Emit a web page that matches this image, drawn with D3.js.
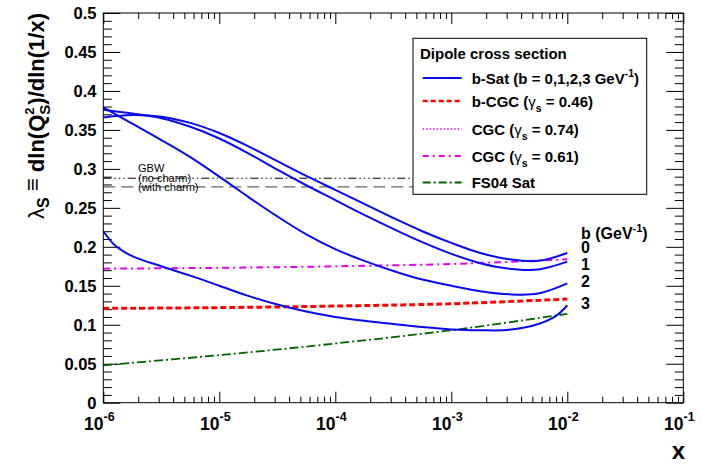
<!DOCTYPE html>
<html>
<head>
<meta charset="utf-8">
<script src="https://cdn.jsdelivr.net/npm/d3@7"></script>
<style>
body { margin: 0; background: #fff; }
text { font-family: Arial, "Liberation Sans", Helvetica, sans-serif; font-weight: bold; fill: #000; }
</style>
</head>
<body>
<div id="chart"></div>
<script>
// log10(x) grid for the b-Sat curves
var logX = [-6, -5.75, -5.5, -5.25, -5, -4.75, -4.5, -4.25, -4, -3.75, -3.5, -3.25, -3, -2.75, -2.5, -2.25, -2];
var bSat0 = [0.366, 0.369, 0.367, 0.359, 0.346, 0.329, 0.310, 0.291, 0.273, 0.255, 0.237, 0.220, 0.205, 0.192, 0.184, 0.182, 0.192];
var bSat1 = [0.376, 0.371, 0.365, 0.354, 0.339, 0.320, 0.299, 0.279, 0.260, 0.241, 0.223, 0.206, 0.191, 0.179, 0.172, 0.171, 0.181];
var bSat2 = [0.379, 0.358, 0.337, 0.315, 0.290, 0.264, 0.239, 0.216, 0.197, 0.182, 0.169, 0.158, 0.150, 0.143, 0.139, 0.140, 0.153];
var bSat3X = [-6, -5.9, -5.75, -5.5, -5.25, -5, -4.75, -4.5, -4.25, -4, -3.75, -3.5, -3.25, -3, -2.75, -2.5, -2.25, -2.1, -2];
var bSat3 = [0.220, 0.202, 0.188, 0.175, 0.163, 0.150, 0.137, 0.126, 0.117, 0.110, 0.105, 0.101, 0.097, 0.094, 0.093, 0.0935, 0.101, 0.111, 0.125];

// the flatter models
var modelX = [-6, -5, -4, -3, -2];
var bCgc046 = [0.121, 0.122, 0.124, 0.127, 0.133];
var cgc061 = [0.172, 0.173, 0.175, 0.178, 0.184];
var fs04Sat = [0.048, 0.061, 0.076, 0.093, 0.114];

// GBW constants
var gbwNoCharm = 0.288;
var gbwWithCharm = 0.277;

var xDecades = [-6, -5, -4, -3, -2, -1];
var yMajor = [0, 0.05, 0.1, 0.15, 0.2, 0.25, 0.3, 0.35, 0.4, 0.45, 0.5];
var curveLabels = ['0', '1', '2', '3'];

var W = 702, H = 464;
var pL = 103.3, pR = 683.3, pT = 13, pB = 402.7;

var svg = d3.select('#chart').append('svg').attr('width', W).attr('height', H);

var x = d3.scaleLog().domain([1e-6, 1e-1]).range([pL, pR]);
var y = d3.scaleLinear().domain([0, 0.5]).range([pB, pT]);

function pts(xs, ys) {
    return xs.map(function (lx, i) { return [Math.pow(10, lx), ys[i]]; });
}
var line = d3.line()
    .x(function (d) { return x(d[0]); })
    .y(function (d) { return y(d[1]); })
    .curve(d3.curveCatmullRom.alpha(0.5));

// ticks
var minorX = x.ticks().filter(function (v) { return Math.abs(Math.log10(v) - Math.round(Math.log10(v))) > 1e-6; });
var majorX = xDecades.map(function (e) { return Math.pow(10, e); });
var minorY = d3.range(0, 0.501, 0.01).filter(function (v) { return Math.abs(v * 20 - Math.round(v * 20)) > 1e-6; });

function tickAxis(axis, vals, size, tr) {
    var g = svg.append('g').attr('transform', tr)
        .call(axis.tickValues(vals).tickSize(size).tickFormat(''));
    g.select('.domain').remove();
    g.selectAll('line').attr('stroke', '#000').attr('stroke-width', 1);
}
tickAxis(d3.axisBottom(x), majorX, -11, 'translate(0,' + pB + ')');
tickAxis(d3.axisBottom(x), minorX, -6, 'translate(0,' + pB + ')');
tickAxis(d3.axisTop(x), majorX, -11, 'translate(0,' + pT + ')');
tickAxis(d3.axisTop(x), minorX, -6, 'translate(0,' + pT + ')');
tickAxis(d3.axisLeft(y), yMajor, -17, 'translate(' + pL + ',0)');
tickAxis(d3.axisLeft(y), minorY, -8.5, 'translate(' + pL + ',0)');
tickAxis(d3.axisRight(y), yMajor, -17, 'translate(' + pR + ',0)');
tickAxis(d3.axisRight(y), minorY, -8.5, 'translate(' + pR + ',0)');

// GBW lines
svg.append('line').attr('x1', x(1e-6)).attr('x2', x(1e-2))
    .attr('y1', y(gbwNoCharm)).attr('y2', y(gbwNoCharm))
    .attr('stroke', '#000').attr('stroke-width', 1).attr('stroke-dasharray', '8,3,1.5,3,1.5,3,1.5,3');
svg.append('line').attr('x1', x(1e-6)).attr('x2', x(1e-2))
    .attr('y1', y(gbwWithCharm)).attr('y2', y(gbwWithCharm))
    .attr('stroke', '#666').attr('stroke-width', 1.3).attr('stroke-dasharray', '12,6');

var gbw = svg.append('g').attr('transform', 'translate(138,0)');
[['GBW', 172], ['(no charm)', 181.5], ['(with charm)', 191]].forEach(function (t) {
    gbw.append('text').attr('x', 0).attr('y', t[1]).attr('font-size', 11)
        .style('font-weight', 'normal').text(t[0]);
});

// model curves
var series = [
    { d: pts(modelX, fs04Sat), c: '#006400', w: 1.8, dash: '9,3,2,3' },
    { d: pts(modelX, bCgc046), c: '#ff0000', w: 3, dash: '6,3' },
    { d: pts(modelX, cgc061), c: '#e600e6', w: 2, dash: '7,4,2,4' },
    { d: pts(logX, bSat0), c: '#0a0aee', w: 2, dash: null },
    { d: pts(logX, bSat1), c: '#0a0aee', w: 2, dash: null },
    { d: pts(logX, bSat2), c: '#0a0aee', w: 2, dash: null },
    { d: pts(bSat3X, bSat3), c: '#0a0aee', w: 2, dash: null }
];
svg.selectAll('path.curve').data(series).enter().append('path')
    .attr('class', 'curve')
    .attr('d', function (s) { return line(s.d); })
    .attr('fill', 'none')
    .attr('stroke', function (s) { return s.c; })
    .attr('stroke-width', function (s) { return s.w; })
    .attr('stroke-dasharray', function (s) { return s.dash; });

// frame
svg.append('rect').attr('x', pL).attr('y', pT).attr('width', pR - pL).attr('height', pB - pT)
    .attr('fill', 'none').attr('stroke', '#000').attr('stroke-width', 1);

// y tick labels
svg.selectAll('text.ylab').data(yMajor).enter().append('text')
    .attr('class', 'ylab')
    .attr('x', 96.5).attr('y', function (d) { return y(d) + 6; })
    .attr('text-anchor', 'end').attr('font-size', 16.5)
    .text(function (d) { return String(+d.toFixed(2)); });

// x tick labels
var xl = svg.selectAll('text.xlab').data(xDecades).enter().append('text')
    .attr('class', 'xlab')
    .attr('x', function (e) { return x(Math.pow(10, e)) - 4; })
    .attr('y', 430).attr('text-anchor', 'middle').attr('font-size', 17.5);
xl.append('tspan').text('10');
xl.append('tspan').attr('dy', -9).attr('font-size', 12.5).text(function (e) { return String(e); });

// axis titles
svg.append('text').attr('x', 685).attr('y', 459).attr('text-anchor', 'end')
    .attr('font-size', 24).text('x');

var yt = svg.append('text').attr('transform', 'translate(44,' + pT + ') rotate(-90)')
    .attr('text-anchor', 'end').attr('font-size', 22);
yt.append('tspan').style('font-weight', 'normal').text('λ');
yt.append('tspan').attr('dy', 5).attr('font-size', 16).text('S');
yt.append('tspan').attr('dy', -9).style('font-weight', 'normal').text(' ≡ ');
yt.append('tspan').attr('dy', 4).text('dln(Q');
yt.append('tspan').attr('dy', -10).attr('font-size', 13).text('2');
yt.append('tspan').attr('dx', -7.2).attr('dy', 16).attr('font-size', 15).text('S');
yt.append('tspan').attr('dy', -6).text(')/dln(1/x)');

// curve labels on the right
var rl = svg.append('g');
var b = rl.append('text').attr('x', 581).attr('y', 239).attr('font-size', 16);
b.append('tspan').text('b  (GeV');
b.append('tspan').attr('dy', -7).attr('font-size', 11).text('-1');
b.append('tspan').attr('dy', 7).text(')');
var labelY = [253, 270, 287, 309];
rl.selectAll('text.bl').data(curveLabels).enter().append('text')
    .attr('class', 'bl').attr('x', 581)
    .attr('y', function (d, i) { return labelY[i]; })
    .attr('font-size', 16).text(function (d) { return d; });

// legend
var lg = svg.append('g');
lg.append('rect').attr('x', 413).attr('y', 38.3).attr('width', 233.7).attr('height', 156)
    .attr('fill', '#fff').attr('stroke', '#000').attr('stroke-width', 1);
lg.append('text').attr('x', 420).attr('y', 59).attr('font-size', 15).text('Dipole cross section');

var legendItems = [
    { c: '#0a0aee', w: 2, dash: null, y: 78, label: 'b-Sat (b = 0,1,2,3 GeV', sup: '-1', tail: ')' },
    { c: '#ff0000', w: 2.5, dash: '5,3', y: 101, label: 'b-CGC (', g: '0.46' },
    { c: '#e600e6', w: 1.5, dash: '1.5,2', y: 129, label: 'CGC (', g: '0.74' },
    { c: '#e600e6', w: 2, dash: '6,4,2,4', y: 156, label: 'CGC (', g: '0.61' },
    { c: '#006400', w: 1.8, dash: '8,3,2,3', y: 182.5, label: 'FS04 Sat' }
];
legendItems.forEach(function (it) {
    lg.append('line').attr('x1', 422.7).attr('x2', 461.7).attr('y1', it.y).attr('y2', it.y)
        .attr('stroke', it.c).attr('stroke-width', it.w).attr('stroke-dasharray', it.dash);
    var t = lg.append('text').attr('x', 471.7).attr('y', it.y + 5.5).attr('font-size', 15);
    t.append('tspan').text(it.label);
    if (it.sup) {
        t.append('tspan').attr('dy', -7).attr('font-size', 10.5).text(it.sup);
        t.append('tspan').attr('dy', 7).text(it.tail);
    }
    if (it.g) {
        t.append('tspan').style('font-weight', 'normal').text('γ');
        t.append('tspan').attr('dy', 5).attr('font-size', 10.5).text('s');
        t.append('tspan').attr('dy', -5).text(' = ' + it.g + ')');
    }
});
</script>
</body>
</html>
